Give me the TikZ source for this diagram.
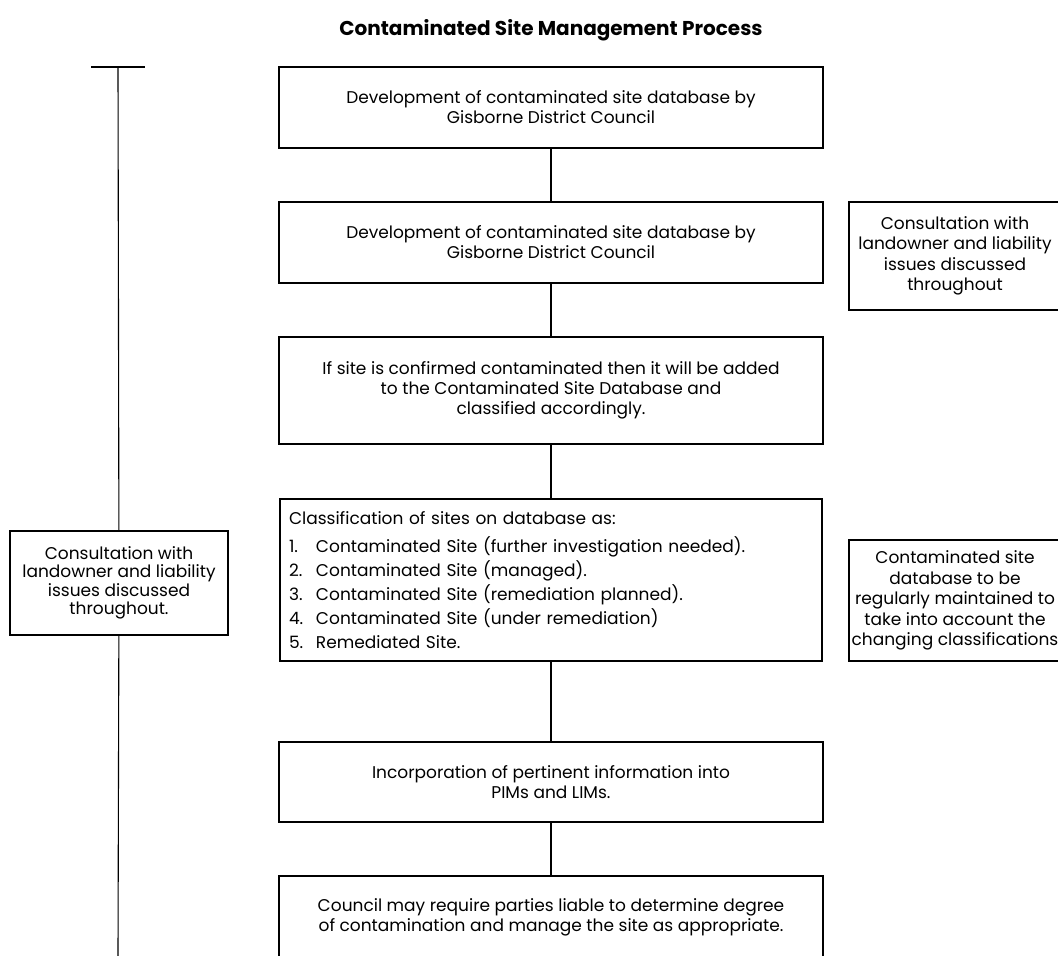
\documentclass[tikz,border=0pt]{standalone}
\usepackage{fontspec}
\setmainfont{Poppins}
\usetikzlibrary{positioning}
\newcommand{\itemno}[1]{\makebox[27pt][l]{#1}}

\begin{document}
\begin{tikzpicture}[x=1pt, y=-1pt,
        box/.style={draw, line width=1.1pt, align=center, inner sep=0pt, font=\fontsize{17}{20}\selectfont, minimum width=544pt, minimum height=81pt},
        side/.style={box, minimum width=212pt, font=\fontsize{17}{20.5}\selectfont},
        link/.style={line width=1.1pt}]

        \useasboundingbox (0,0) rectangle (1058,956);
        \clip (0,0) rectangle (1058,956);

        \node[font=\fontsize{20}{22}\selectfont\bfseries] (title) at (551,30) {Contaminated Site Management Process};

        % main column
        \node[box] (dbase) at (551,107.5) {Development of contaminated site database by\\Gisborne District Council};
        \node[box] (dbaseb) at (551,242.5) {Development of contaminated site database by\\Gisborne District Council};
        \node[box, minimum height=107pt] (confirm) at (551,390.5) {If site is confirmed contaminated then it will be added\\to the Contaminated Site Database and\\classified accordingly.};
        \node[box, minimum width=542pt, minimum height=162pt, text width=524pt, align=left, font=\fontsize{17}{24}\selectfont] (classes) at (551,580) {Classification of sites on database as:\\[4pt]
            \itemno{1.}Contaminated Site (further investigation needed).\\
            \itemno{2.}Contaminated Site (managed).\\
            \itemno{3.}Contaminated Site (remediation planned).\\
            \itemno{4.}Contaminated Site (under remediation)\\
            \itemno{5.}Remediated Site.};
        \node[box, minimum height=80pt] (pims) at (551,782) {Incorporation of pertinent information into\\PIMs and LIMs.};
        \node[box, minimum height=82pt] (liable) at (551,917) {Council may require parties liable to determine degree\\of contamination and manage the site as appropriate.};

        % side notes
        \node[side, minimum width=218pt, minimum height=104pt, font=\fontsize{17}{18.5}\selectfont] (consultL) at (119,583) {Consultation with\\landowner and liability\\issues discussed\\throughout.};
        \node[side, minimum height=108pt] (consultR) at (955,256) {Consultation with\\landowner and liability\\issues discussed\\throughout};
        \node[side, minimum height=121pt] (maintain) at (955,600.5) {Contaminated site\\database to be\\regularly maintained to\\take into account the\\changing classifications};

        \coordinate (barleft) at (91,67);
        \coordinate (barright) at (145,67);
        \coordinate (bartop) at (118,67);
        \coordinate (barbottom) at (118,956);

        \draw[link] (dbase) -- (dbaseb);
        \draw[link] (dbaseb) -- (confirm);
        \draw[link] (confirm) -- (classes);
        \draw[link] (classes) -- (pims);
        \draw[link] (pims) -- (liable);

        \draw[link] (barleft) -- (barright);
        \draw[link] (bartop) -- (consultL);
        \draw[link] (consultL) -- (barbottom);
\end{tikzpicture}
\end{document}
